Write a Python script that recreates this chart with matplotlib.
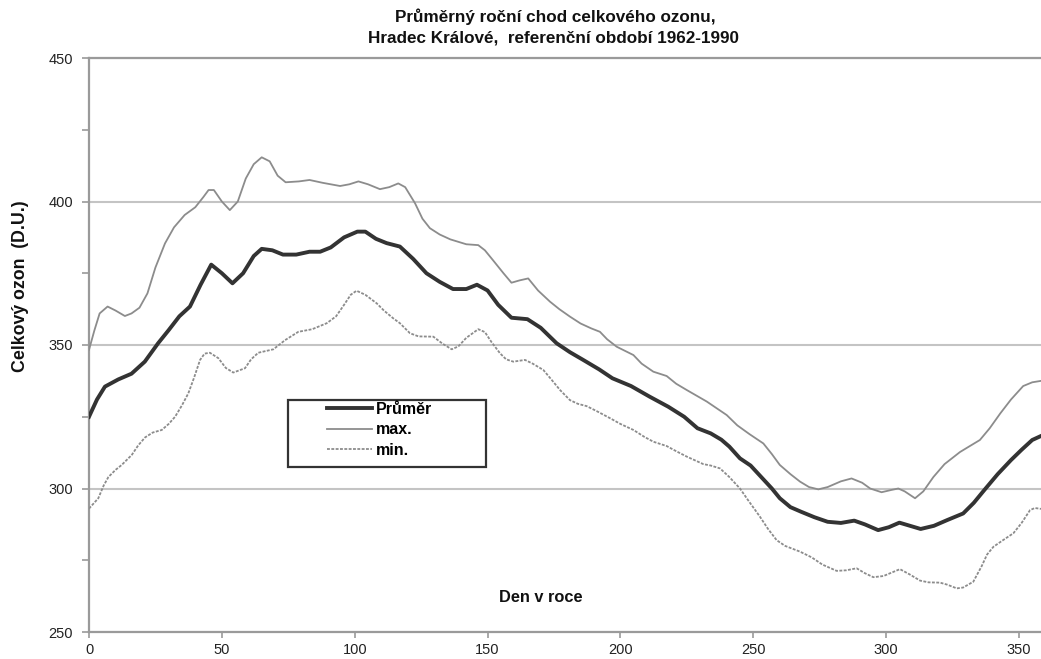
import matplotlib.pyplot as plt
from matplotlib.patches import Rectangle
from matplotlib.ticker import MultipleLocator

plt.rcParams['font.family'] = ['Liberation Sans', 'DejaVu Sans']

# Průměr
den_prumer = [0, 3, 6, 11, 16, 21, 26, 30, 34, 38, 42, 46, 50, 54, 58, 62, 65, 69, 73, 78,
              83, 87, 91, 96, 101, 104, 108, 112, 117, 122, 127, 132, 137, 142, 146, 150,
              154, 159, 165, 170, 176, 181, 186, 192, 197, 204, 211, 218, 224, 229, 234,
              238, 241, 245, 249, 253, 257, 260, 264, 268, 273, 278, 283, 288, 292, 297,
              301, 305, 309, 313, 318, 323, 329, 333, 337, 342, 347, 351, 355, 358.3]
prumer = [325, 331, 335.5, 338, 340, 344.2, 350.6, 355.2, 360, 363.4, 371, 378, 375, 371.5,
          375, 381, 383.5, 383, 381.5, 381.5, 382.5, 382.5, 384, 387.5, 389.5, 389.5, 387,
          385.5, 384.3, 380, 375, 372, 369.5, 369.5, 371, 369, 364, 359.5, 359, 356, 350.6,
          347.5, 344.8, 341.5, 338.4, 335.7, 332, 328.5, 325, 321, 319.2, 317, 314.6, 310.5,
          308, 304, 300, 296.6, 293.5, 291.9, 290, 288.4, 288, 288.8, 287.5, 285.5, 286.5,
          288.1, 287, 285.9, 287, 289, 291.3, 295, 299.5, 305, 309.9, 313.5, 316.9, 318.3]

# max.
den_max = [0, 2, 4, 7, 10, 13.5, 16, 19, 22, 25, 28.6, 32, 36, 40, 43, 45, 47, 50, 53, 56,
           59, 62, 65, 68, 71, 74, 79, 83, 88, 94.5, 98, 101.4, 105, 109.5, 113, 116.4, 119,
           122.7, 125.5, 128.3, 132, 136, 142, 146.5, 149, 152, 156, 159, 162, 165.3, 169,
           173.5, 177, 181, 185, 189, 192.3, 195, 198.6, 204.9, 208, 212.4, 217.4, 221, 225,
           232.5, 240, 244, 248.5, 253.8, 257, 260, 264, 267.6, 271, 274.5, 278, 283, 287,
           291, 294, 298.3, 302, 304.6, 307, 310.9, 314, 317.8, 322, 327.8, 331, 335.3, 339,
           343, 347, 351.6, 355, 358.3]
maximum = [348.3, 355, 361, 363.4, 362, 360.1, 361, 363, 368, 377, 385.4, 391, 395.3, 398,
           401.5, 404, 404, 400, 397, 400, 408, 413, 415.4, 414, 409, 406.7, 407, 407.5,
           406.5, 405.4, 406, 407, 406, 404.3, 405, 406.3, 405, 399.4, 394, 390.7, 388.5,
           386.8, 385.1, 384.8, 383, 379.6, 375, 371.7, 372.5, 373.2, 369, 365.1, 362.5,
           359.9, 357.5, 355.8, 354.6, 352, 349.4, 346.5, 343.5, 340.7, 339.2, 336.5, 334.3,
           330.3, 325.6, 322, 319, 315.7, 312, 308.2, 305, 302.4, 300.5, 299.7, 300.5, 302.5,
           303.5, 302, 300, 298.7, 299.5, 300, 299, 296.6, 299, 304, 308.5, 312.7, 314.5,
           316.9, 321, 326.2, 331, 335.7, 337, 337.5]

# min.
den_min = [0, 3.5, 5.5, 7.3, 10, 12.3, 16.1, 18.5, 21.1, 24, 27.4, 30, 32.4, 35, 37.4, 39.5,
           41.8, 43.5, 45.5, 48.7, 51.5, 54.3, 58.7, 61, 63.7, 69.4, 73.8, 78.8, 84, 89.5, 93,
           96, 98.5, 100.7, 104, 108.3, 111, 114.5, 117, 120.8, 124, 129.6, 133, 136.5, 139,
           142, 146.5, 149, 151.5, 154.7, 157, 159.7, 164.1, 167, 171, 174, 177.3, 181, 184,
           187.3, 191, 196.1, 200, 204.9, 209, 212.4, 217.4, 221, 225, 231.2, 234, 237.5, 241,
           245, 248, 252.5, 255.5, 258.8, 262, 267.6, 272, 276, 281.4, 285, 288.9, 292, 295.2,
           299, 305.2, 309, 312.8, 316, 320.3, 323, 326.6, 329, 332.8, 336, 338, 340.4, 344,
           347.9, 351, 354.2, 356, 358.3]
minimum = [293, 296.6, 301, 304, 306.5, 308.2, 311.7, 315, 317.8, 319.5, 320.4, 322.5, 325,
           329, 333.2, 338.5, 344.8, 347, 347.3, 345.4, 342, 340.4, 341.9, 345, 347.3, 348.5,
           351.7, 354.6, 355.5, 357.6, 360, 364, 367.5, 368.9, 367.5, 364.5, 362, 359.3, 357.6,
           354.1, 353, 352.9, 350.5, 348.5, 349.5, 352.5, 355.5, 354.5, 351, 347.1, 345, 344.2,
           344.8, 343.5, 341.3, 338, 334.3, 330.8, 329.5, 328.7, 327, 324.5, 322.5, 320.4, 318,
           316.3, 314.8, 313, 311.1, 308.5, 308, 307, 304, 300, 296, 290.2, 286, 282, 280, 278,
           276, 273.5, 271.3, 271.5, 272.2, 270.5, 269.1, 269.5, 271.9, 270, 267.9, 267.3,
           267.2, 266.5, 265.2, 265.5, 267.5, 273, 277, 279.7, 282, 284.4, 288, 292.5, 293.2,
           292.9]

W, H = 1041, 659
fig = plt.figure(figsize=(W / 100, H / 100), dpi=100)
ax = fig.add_axes([89 / W, 1 - 632 / H, 1 - 89 / W, (632 - 58) / H])

ax.plot(den_prumer, prumer, color='#333333', lw=2.8, label='Průměr', zorder=4)
ax.plot(den_max, maximum, color='#8c8c8c', lw=1.3, label='max.', zorder=3)
ax.plot(den_min, minimum, color='#8c8c8c', lw=1.3, ls=(0, (1.6, 0.8)), label='min.', zorder=3)

ax.set_xlim(0, 358.3)
ax.set_ylim(250, 450)
ax.xaxis.set_major_locator(MultipleLocator(50))
ax.yaxis.set_major_locator(MultipleLocator(50))
ax.yaxis.set_minor_locator(MultipleLocator(25))

ax.grid(axis='y', color='#c4c4c4', lw=1.5)
ax.set_axisbelow(True)
ax.spines['right'].set_visible(False)
for s in ['left', 'bottom', 'top']:
    ax.spines[s].set_color('#9a9a9a')
    ax.spines[s].set_linewidth(1.6)
ax.tick_params(axis='both', colors='#9a9a9a', labelcolor='#222222', labelsize=10.5, width=1.2, length=5)
ax.tick_params(axis='y', which='minor', colors='#9a9a9a', width=1.2, length=5)
ax.tick_params(axis='y', pad=6.5)
ax.tick_params(axis='x', length=4, pad=4)

bold = dict(fontweight='bold', color='#111111')
fig.text(555 / W, 1 - 17 / H, 'Průměrný roční chod celkového ozonu,', ha='center', va='center',
         fontsize=12.3, **bold)
fig.text(553 / W, 1 - 38 / H, 'Hradec Králové,  referenční období 1962-1990', ha='center',
         va='center', fontsize=12.3, **bold)
fig.text(21 / W, 1 - 286 / H, 'Celkový ozon  (D.U.)', rotation=90, ha='center', va='center',
         fontsize=12.8, **bold)
ax.text(170, 262, 'Den v roce', ha='center', va='center', fontsize=11.8, **bold)

# legend: frameless entries inside a hand-drawn box
fig.patches.append(Rectangle((288 / W, 1 - 467 / H), 198 / W, 67 / H, transform=fig.transFigure,
                             fill=False, edgecolor='#333333', lw=1.6, zorder=5))
leg = fig.legend(loc='upper left', bbox_to_anchor=(327 / W, 1 - 402 / H), frameon=False,
                 fontsize=11.5, handlelength=2.8, borderpad=0, borderaxespad=0,
                 labelspacing=0.34, handletextpad=0.25)
for t in leg.get_texts():
    t.set_fontweight('bold')

fig.savefig('out.png', dpi=100)
